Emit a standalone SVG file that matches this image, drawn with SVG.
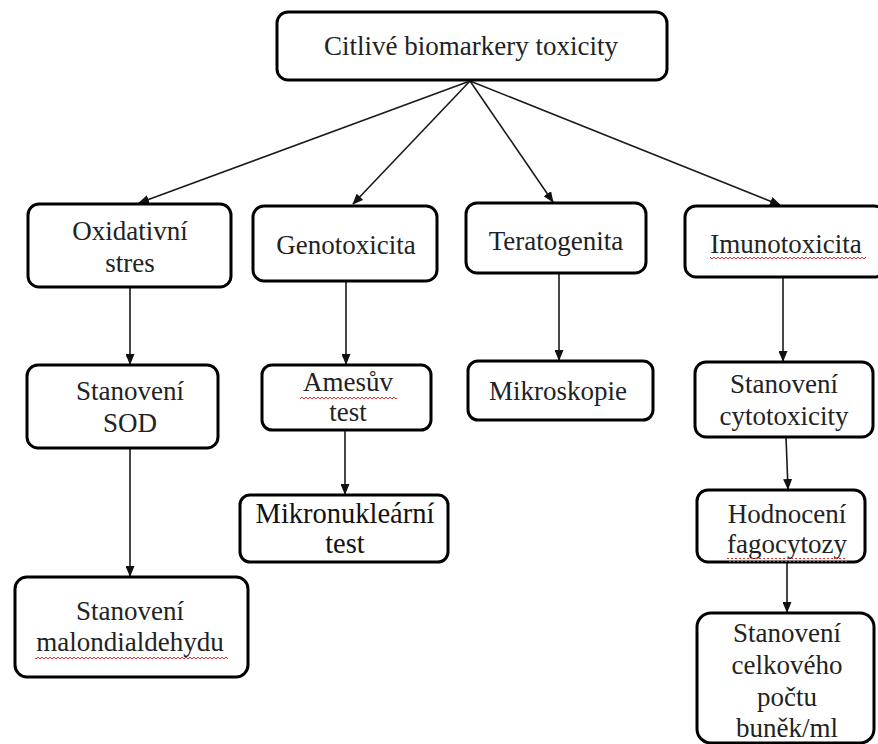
<svg xmlns="http://www.w3.org/2000/svg" width="878" height="744" viewBox="0 0 878 744">
  <style>
    .box { fill: #ffffff; stroke: #000000; stroke-width: 3; }
    .lbl { font-family: "Liberation Serif", "Times New Roman", serif; font-size: 27px; fill: #222222; text-anchor: middle; }
    .alt { font-size: 28.5px; fill: #111111; }
    .edge { stroke: #1a1a1a; stroke-width: 1.6; fill: none; marker-end: url(#arrow); }
    .spell { fill: url(#wave); }
  </style>
  <defs>
    <marker id="arrow" markerUnits="userSpaceOnUse" markerWidth="11" markerHeight="9" refX="10" refY="4.5" orient="auto">
      <path d="M0,0 L11,4.5 L0,9 Z" fill="#111111"/>
    </marker>
    <pattern id="wave" patternUnits="userSpaceOnUse" width="4" height="4">
      <path d="M0,3 L2,1 L4,3" fill="none" stroke="#e0302a" stroke-width="1"/>
    </pattern>
  </defs>

  <rect width="878" height="744" fill="#ffffff"/>

  <!-- connectors -->
  <g id="connectors">
    <line class="edge" x1="470" y1="81" x2="139" y2="203"/>
    <line class="edge" x1="470" y1="81" x2="353" y2="204"/>
    <line class="edge" x1="470" y1="81" x2="553" y2="202"/>
    <line class="edge" x1="470" y1="81" x2="780" y2="205"/>
    <line class="edge" x1="130" y1="287" x2="130" y2="364"/>
    <line class="edge" x1="130" y1="448" x2="130" y2="576"/>
    <line class="edge" x1="346" y1="281" x2="346" y2="364"/>
    <line class="edge" x1="345" y1="430" x2="345" y2="494"/>
    <line class="edge" x1="559" y1="273" x2="559" y2="360"/>
    <line class="edge" x1="783" y1="277" x2="783" y2="361"/>
    <line class="edge" x1="786" y1="437" x2="788" y2="489"/>
    <line class="edge" x1="787" y1="562" x2="787" y2="612"/>
  </g>

  <!-- root -->
  <g id="root">
    <rect class="box" x="277" y="12" width="390" height="68" rx="11"/>
    <text class="lbl" x="471" y="55">Citlivé biomarkery toxicity</text>
  </g>

  <!-- first level -->
  <g id="oxidativni">
    <rect class="box" x="28" y="204" width="203" height="83" rx="11"/>
    <text class="lbl" x="130" y="240">Oxidativní</text>
    <text class="lbl" x="130" y="272">stres</text>
  </g>
  <g id="genotoxicita">
    <rect class="box" x="253" y="206" width="184" height="75" rx="11"/>
    <text class="lbl" x="346" y="254">Genotoxicita</text>
  </g>
  <g id="teratogenita">
    <rect class="box" x="466" y="203" width="180" height="70" rx="11"/>
    <text class="lbl" x="556" y="250">Teratogenita</text>
  </g>
  <g id="imunotoxicita">
    <rect class="box" x="685" y="206" width="200" height="71" rx="11"/>
    <text class="lbl" x="786" y="253">Imunotoxicita</text>
    <rect class="spell" x="710" y="256" width="156" height="4"/>
  </g>

  <!-- oxidative stress branch -->
  <g id="sod">
    <rect class="box" x="27" y="365" width="191" height="83" rx="11"/>
    <text class="lbl" x="130" y="400">Stanovení</text>
    <text class="lbl" x="130" y="432">SOD</text>
  </g>
  <g id="malondialdehyd">
    <rect class="box" x="15" y="577" width="233" height="100" rx="12"/>
    <text class="lbl" x="130" y="620">Stanovení</text>
    <text class="lbl" x="130" y="651">malondialdehydu</text>
    <rect class="spell" x="35" y="655" width="193" height="4"/>
  </g>

  <!-- genotoxicity branch -->
  <g id="ames">
    <rect class="box" x="262" y="365" width="169" height="65" rx="10"/>
    <text class="lbl" x="348" y="391">Amesův</text>
    <text class="lbl" x="348" y="421">test</text>
    <rect class="spell" x="300" y="395" width="97" height="4"/>
  </g>
  <g id="mikronuklearni">
    <rect class="box" x="240" y="495" width="208" height="67" rx="10"/>
    <text class="lbl alt" x="345" y="523">Mikronukleární</text>
    <text class="lbl alt" x="345" y="553">test</text>
  </g>

  <!-- teratogenicity branch -->
  <g id="mikroskopie">
    <rect class="box" x="468" y="361" width="185" height="59" rx="10"/>
    <text class="lbl" x="558" y="400">Mikroskopie</text>
  </g>

  <!-- immunotoxicity branch -->
  <g id="cytotoxicita">
    <rect class="box" x="695" y="362" width="178" height="75" rx="11"/>
    <text class="lbl" x="784" y="393">Stanovení</text>
    <text class="lbl" x="784" y="425">cytotoxicity</text>
  </g>
  <g id="fagocytoza">
    <rect class="box" x="697" y="490" width="168" height="72" rx="11"/>
    <text class="lbl" x="787" y="523">Hodnocení</text>
    <text class="lbl" x="787" y="553">fagocytozy</text>
    <rect class="spell" x="727" y="558" width="120" height="4"/>
  </g>
  <g id="pocet-bunek">
    <rect class="box" x="697" y="613" width="177" height="130" rx="14"/>
    <text class="lbl" x="787" y="642">Stanovení</text>
    <text class="lbl" x="787" y="674">celkového</text>
    <text class="lbl" x="787" y="706">počtu</text>
    <text class="lbl" x="787" y="737">buněk/ml</text>
  </g>
</svg>
